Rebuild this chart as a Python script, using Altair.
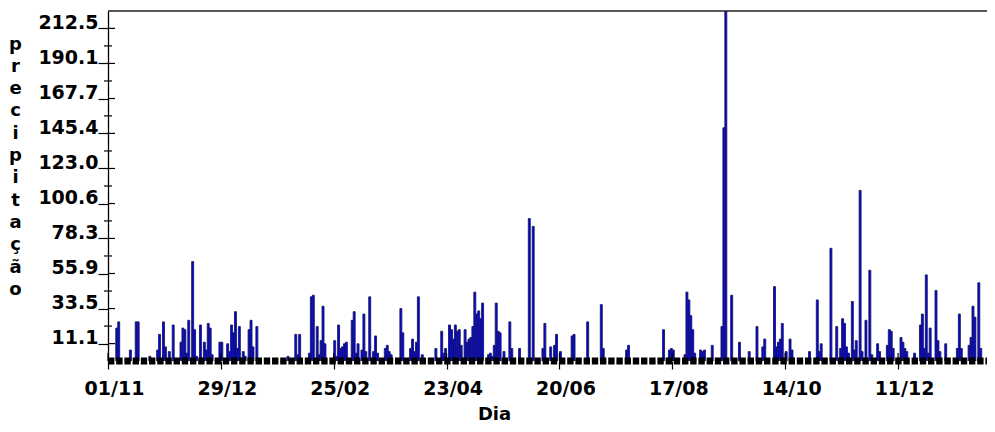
import altair as alt
import pandas as pd

# ---- data ----
inicio = "2011-11-01"
dias = [4, 5, 11, 14, 15, 21, 25, 26, 28, 29, 31, 33, 37, 38, 39, 40, 41, 43, 44, 45,
        47, 49, 50, 51, 52, 53, 57, 58, 61, 62, 63, 64, 65, 66, 67, 69, 70, 72, 73, 74,
        76, 92, 96, 97, 98, 103, 104, 105, 107, 108, 109, 110, 111, 116, 117, 118, 119, 120,
        121, 122, 125, 126, 127, 128, 130, 131, 132, 134, 136, 137, 138, 142, 143, 144, 145,
        150, 151, 155, 156, 157, 158, 159, 161, 168, 171, 172, 173, 175, 176, 177, 178, 179,
        180, 181, 183, 184, 185, 186, 187, 188, 189, 190, 191, 192, 195, 196, 197, 198, 199,
        200, 201, 203, 206, 207, 211, 216, 218, 223, 224, 227, 229, 230, 232, 238, 239, 246,
        253, 254, 266, 267, 285, 288, 289, 290, 296, 297, 298, 299, 300, 301, 304, 305, 306,
        310, 315, 316, 317, 320, 324, 329, 333, 336, 337, 342, 343, 344, 345, 346, 348, 350,
        351, 360, 364, 365, 366, 371, 374, 376, 377, 378, 379, 380, 382, 383, 384, 386, 387,
        389, 391, 392, 395, 396, 400, 401, 402, 403, 407, 408, 409, 410, 414, 417, 418, 419,
        420, 421, 422, 425, 426, 427, 430, 436, 437, 438, 442, 443, 444, 445, 447, 448, 452,
        453, 455]
precipitacao = [21, 25, 7, 25, 25, 3, 7, 17, 25, 9, 6, 23, 12, 21, 20, 5, 26, 63.5, 20, 3,
                23, 12, 7, 24, 21, 4, 12, 12, 11, 6, 23, 18, 31.5, 8, 22, 6, 3, 20, 26, 9,
                22, 3, 17, 4, 17, 5, 41, 42, 22, 4, 13, 35, 11, 13, 3, 23, 8, 9,
                11, 12, 26, 31.5, 5, 11, 7, 30, 6, 41, 6, 16, 5, 8, 10, 6, 4,
                33.5, 18, 8, 14, 6, 12, 41, 4, 8, 19, 5, 8, 23, 20, 14, 23, 19,
                20, 10, 20, 12, 14, 15, 22, 44, 30, 32, 27, 37, 4, 5, 3, 10, 37,
                19, 18, 6, 25, 8, 8, 91, 86, 8, 24, 9, 10, 17, 6, 16, 17, 25,
                36, 8, 7, 10, 20, 7, 8, 7, 4, 44, 39, 29, 20, 5, 7, 6, 7,
                10, 22, 149, 223.6, 42, 12, 6, 22, 9, 14, 47.5, 9, 12, 14, 24, 6, 14,
                7, 6, 39, 6, 11, 72, 22, 8, 27, 24, 9, 5, 38, 7, 13, 109, 6,
                26, 58, 4, 11, 6, 10, 20, 19, 8, 15, 12, 8, 6, 5, 23, 30, 8,
                55, 5, 21, 45, 13, 6, 11, 8, 30, 8, 10, 15, 35, 28, 50, 8, 23,
                14, 39]

y_rotulos = [11.1, 33.5, 55.9, 78.3, 100.6, 123.0, 145.4, 167.7, 190.1, 212.5]
y_menores = [22.3, 44.7, 67.1, 89.5, 111.8, 134.2, 156.6, 178.9, 201.3]
y_max = 223.6
x_rotulos = ["2011-11-01", "2011-12-29", "2012-02-25", "2012-04-23",
             "2012-06-20", "2012-08-17", "2012-10-14", "2012-12-11"]
fim_dominio = "2013-01-25T17:00:00"

W, H = 879, 350
FONT = "DejaVu Sans"
NAVY = "#1a1a60"
AZUL = "#0000e6"

t0 = pd.Timestamp(inicio)
df = pd.DataFrame({
    "ini": [t0 + pd.Timedelta(days=d) for d in dias],
    "fim": [t0 + pd.Timedelta(days=d + 1) for d in dias],
    "v": precipitacao,
})

def dt(s):
    t = pd.Timestamp(s)
    return alt.DateTime(year=t.year, month=t.month, date=t.day, hours=t.hour)

x_dom = [dt(inicio), dt(fim_dominio)]
x_vals = [dt(s) for s in x_rotulos]
xscale = alt.Scale(domain=x_dom, nice=False, padding=0)
yscale = alt.Scale(domain=[0, y_max], nice=False, zero=True, padding=0)

x_axis = alt.Axis(values=x_vals, format="%d/%m", title="Dia",
                  labelFont=FONT, labelFontWeight="bold", labelFontSize=19,
                  labelColor="black", labelOffset=6, labelPadding=10,
                  labelBaseline="top", labelAngle=0,
                  tickSize=8, tickColor="black", tickWidth=1.2,
                  domain=False, grid=False, labelFlush=False,
                  titleFont=FONT, titleFontWeight="bold", titleFontSize=18,
                  titleColor="black", titleX=386, titleY=58,
                  titleBaseline="alphabetic", titleAnchor="start",
                  titleAlign="center")
y_axis = alt.Axis(values=y_rotulos, format=".1f",
                  title=list("precipitação"), titleAngle=0,
                  titleX=-93, titleY=38, titleAlign="center",
                  titleBaseline="alphabetic", titleLineHeight=22.3,
                  titleFont=FONT, titleFontWeight="bold", titleFontSize=18,
                  titleColor="black",
                  labelFont=FONT, labelFontWeight="bold", labelFontSize=19,
                  labelColor="black", labelPadding=0,
                  labelBaseline="alphabetic",
                  tickSize=10, tickColor="black", tickWidth=1.2,
                  domainColor="black", domainWidth=1.3, grid=False)

bars = alt.Chart(df).mark_rect(
    fill=AZUL, stroke=NAVY, strokeWidth=0.9, clip=True
).encode(
    x=alt.X("ini:T", scale=xscale, axis=x_axis),
    x2="fim:T",
    y=alt.Y("v:Q", scale=yscale, axis=y_axis),
    y2=alt.datum(0),
)

# right-hand part of the major y ticks and the small minor ticks
ymaj = alt.Chart(pd.DataFrame({"v": y_rotulos})).mark_rule(
    color="black", strokeWidth=1.2
).encode(y=alt.Y("v:Q", scale=yscale, axis=y_axis), x=alt.value(0), x2=alt.value(7))
ymin = alt.Chart(pd.DataFrame({"v": y_menores})).mark_rule(
    color="black", strokeWidth=1.2
).encode(y=alt.Y("v:Q", scale=yscale, axis=y_axis), x=alt.value(-4), x2=alt.value(4))

# upper part of x ticks
xtk = alt.Chart(pd.DataFrame({"ini": [pd.Timestamp(s) for s in x_rotulos]})).mark_rule(
    color="black", strokeWidth=1.2
).encode(x=alt.X("ini:T", scale=xscale, axis=x_axis), y=alt.value(H - 8), y2=alt.value(H))

# dashed black base line
base = alt.Chart(pd.DataFrame({"v": [0]})).mark_rule(
    color="black", strokeWidth=7, strokeDash=[6.4, 1.8]
).encode(y=alt.Y("v:Q", scale=yscale, axis=y_axis), x=alt.value(0), x2=alt.value(W))

# top frame line
topo = alt.Chart(pd.DataFrame({"v": [y_max]})).mark_rule(
    color="#222222", strokeWidth=1.5
).encode(y=alt.Y("v:Q", scale=yscale, axis=y_axis), x=alt.value(0), x2=alt.value(W))

chart = alt.layer(bars, base, xtk, ymaj, ymin, topo).properties(
    width=W, height=H,
    autosize=alt.AutoSizeParams(type="none"),
    padding={"left": 100, "top": 3, "right": 0, "bottom": 63},
).configure(background="white").configure_view(stroke=None)

chart.save("out.html", embed_options={"renderer": "svg", "actions": False})
